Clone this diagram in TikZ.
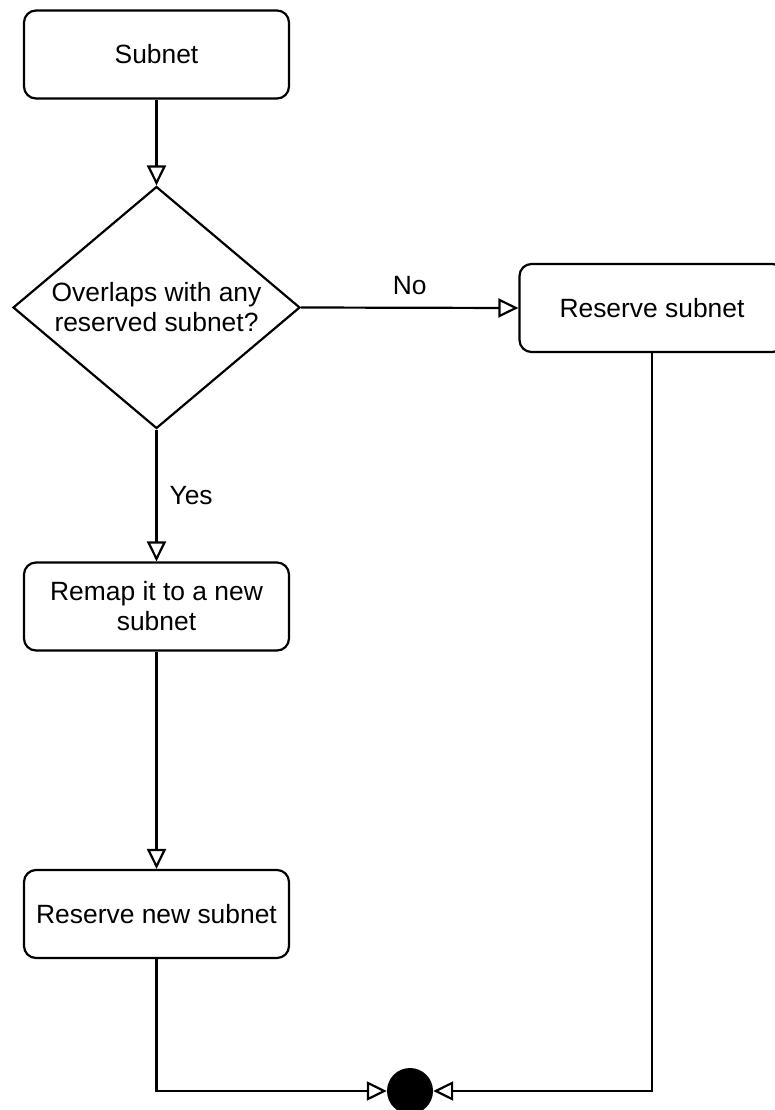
\documentclass[tikz,border=0pt]{standalone}
\usepackage{fontspec}
\setmainfont{Liberation Sans}
\usetikzlibrary{arrows.meta,shapes.geometric}

\begin{document}
\begin{tikzpicture}[
    x=1pt,y=-1pt,
    font=\fontsize{26.4}{30}\selectfont,
    stepbox/.style={rectangle,rounded corners=12pt,draw=black,fill=white,line width=2.2pt,
        minimum width=265pt,minimum height=88pt,inner sep=0pt,align=center},
    decision/.style={diamond,draw=black,fill=white,line width=2.2pt,aspect=1.186,
        minimum width=287pt,minimum height=242pt,inner sep=0pt,align=center},
    endstate/.style={circle,fill=black,draw=none,minimum size=46pt,inner sep=0pt},
    line/.style={draw=black,line width=2.2pt},
    arrow/.style={line,-{Triangle[open,length=20pt,width=19pt]}},
    edgelabel/.style={inner sep=0pt}
]
\useasboundingbox (0,0) rectangle (774,1110);
\node[stepbox] (subnet) at (156.5,54.5) {Subnet};
\node[decision] (overlap) at (156.5,307.5) {Overlaps with any\\reserved subnet?};
\node[stepbox] (reserve) at (652,308) {Reserve subnet};
\node[stepbox] (remap) at (156.5,606.5) {Remap it to a new\\subnet};
\node[stepbox] (reservenew) at (156.5,914) {Reserve new subnet};
\node[endstate] (done) at (410,1091) {};
\draw[arrow] (subnet.south) -- (overlap.north);
\draw[arrow] (overlap.east) -- node[edgelabel,above=12pt] (nolabel) {No} (reserve.west);
\draw[arrow] (overlap.south) -- node[edgelabel,right=12pt] (yeslabel) {Yes} (remap.north);
\draw[arrow] (remap.south) -- (reservenew.north);
\draw[arrow] (reservenew.south) |- (done.west);
\draw[arrow] (reserve.south) |- (done.east);
\end{tikzpicture}
\end{document}
